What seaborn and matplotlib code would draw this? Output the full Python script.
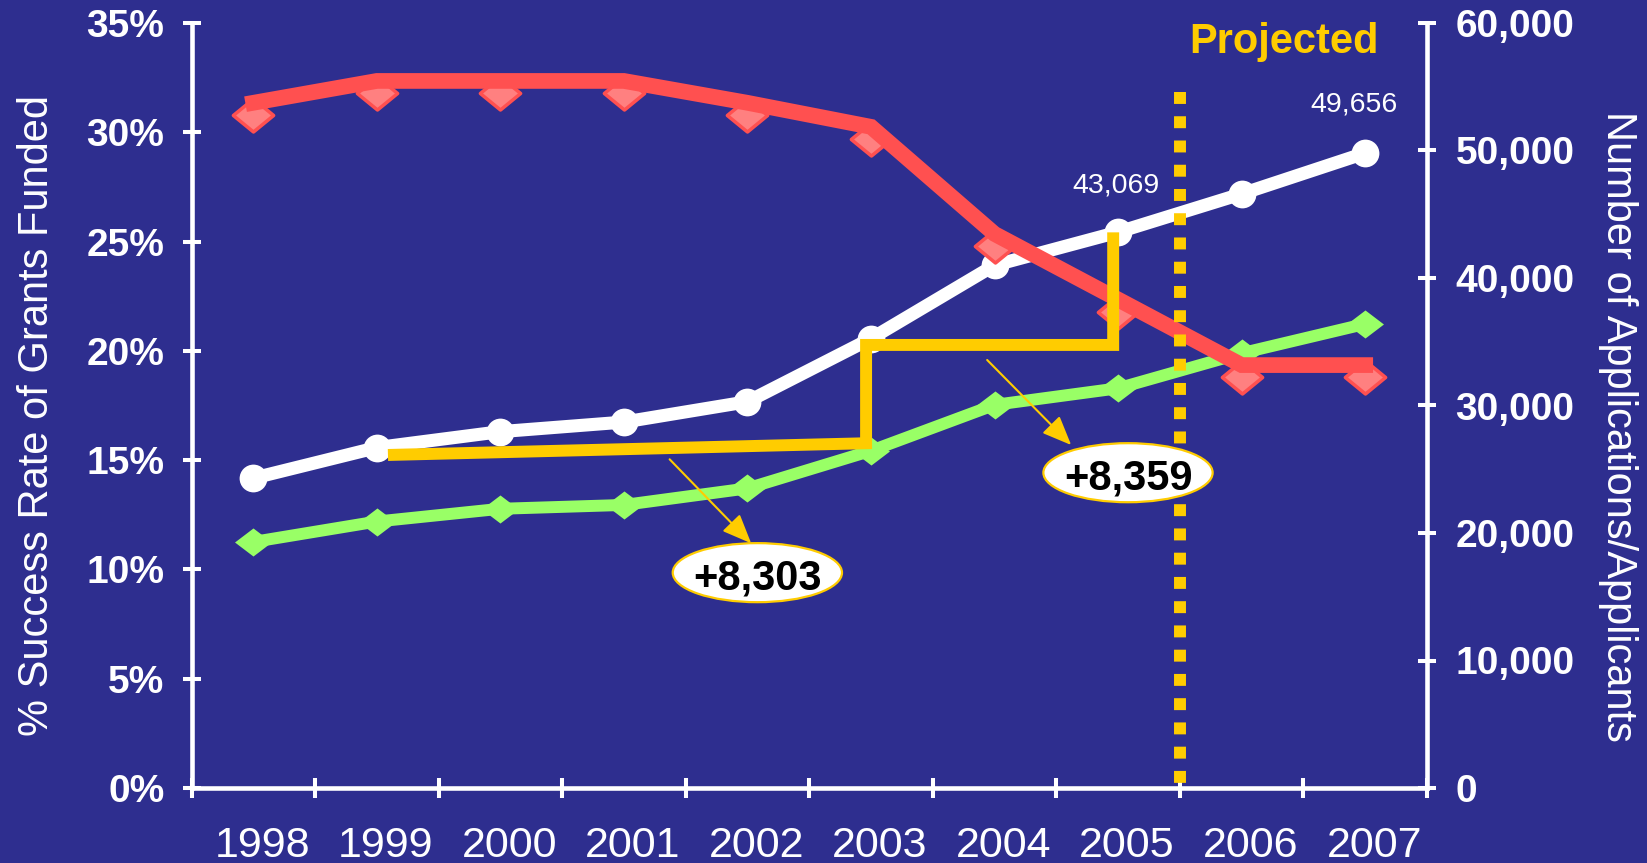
import numpy as np
import pandas as pd
import matplotlib
matplotlib.use("Agg")
import matplotlib.pyplot as plt
import matplotlib.transforms as mtransforms
from matplotlib.path import Path
from matplotlib.patches import Ellipse
from matplotlib.ticker import FixedLocator, FuncFormatter, NullFormatter
import seaborn as sns

# ---------------- data ----------------
years = ["1998", "1999", "2000", "2001", "2002", "2003", "2004", "2005", "2006", "2007"]
success_rate = [30.8, 31.8, 31.8, 31.8, 30.8, 29.7, 24.8, 21.8, 18.8, 18.8]          # % (left axis)
applications = [24300, 26700, 27950, 28700, 30300, 35250, 41000, 43600, 46600, 49800]  # right axis
applicants = [19300, 20900, 21900, 22200, 23500, 26450, 30050, 31350, 34100, 36400]    # right axis
left_ticks = [0, 5, 10, 15, 20, 25, 30, 35]
right_ticks = [0, 10000, 20000, 30000, 40000, 50000, 60000]
point_labels = {"2005": "43,069", "2007": "49,656"}
increase_labels = ["+8,303", "+8,359"]
increase_centers_x = [4.08, 7.08]
increase_centers_y = [16890, 24730]
arrow_tails_x = [3.37, 5.94]
arrow_tails_y = [25780, 33570]
arrow_tips_x = [4.03, 6.62]
arrow_tips_y = [19190, 26900]
step_x = [1.09, 4.96, 4.96, 6.96, 6.96]
step_y = [26120, 27040, 34750, 34750, 43580]
projected_boundary = 7.5
projected_top = 54600
projected_label = "Projected"

df = pd.DataFrame({
    "pos": np.arange(len(years)),
    "year": years,
    "rate": success_rate,
    "applications": applications,
    "applicants": applicants,
})

# ---------------- style ----------------
BG = "#2E2E8F"
GOLD = "#FFCC00"
RED = "#FF5050"
PINK = "#FF8080"
GREEN = "#99FF66"
plt.rcParams["font.family"] = ["Liberation Sans", "DejaVu Sans"]

fig = plt.figure(figsize=(16.47, 8.63), dpi=100, facecolor=BG)
rect = [191.5 / 1647, 1 - 788 / 863, (1427 - 191.5) / 1647, (788 - 23) / 863]
ax = fig.add_axes(rect)
ax2 = ax.twinx()
ax3 = ax.twinx()
ax2.set_zorder(1)
ax.set_zorder(2)
ax3.set_zorder(3)
for a in (ax, ax2, ax3):
    a.patch.set_visible(False)
    for s in a.spines.values():
        s.set_visible(False)

# wide diamond markers
red_diamond = Path([(-1, 0), (0, 0.82), (1, 0), (0, -0.82), (-1, 0)],
                   [Path.MOVETO, Path.LINETO, Path.LINETO, Path.LINETO, Path.CLOSEPOLY])
green_diamond = Path([(-1, 0), (0, 0.76), (1, 0), (0, -0.76), (-1, 0)],
                     [Path.MOVETO, Path.LINETO, Path.LINETO, Path.LINETO, Path.CLOSEPOLY])

# ---------------- right-axis series ----------------
sns.lineplot(data=df, x="pos", y="applicants", ax=ax2, color=GREEN, lw=8.6,
             marker=green_diamond, markersize=26.6, markeredgewidth=0,
             markerfacecolor=GREEN, legend=False)
sns.lineplot(data=df, x="pos", y="applications", ax=ax2, color="white", lw=9.4,
             marker="o", markersize=20, markeredgewidth=0,
             markerfacecolor="white", legend=False)

# ---------------- left-axis series ----------------
sns.lineplot(data=df, x="pos", y="rate", ax=ax, color=RED, linestyle="none",
             marker=red_diamond, markersize=29, markerfacecolor=PINK,
             markeredgecolor=RED, markeredgewidth=2.5, legend=False)
sns.lineplot(data=df, x="pos", y="rate", ax=ax, color=RED, lw=11.3, legend=False,
             solid_joinstyle="miter")
ax.lines[-1].set_transform(mtransforms.offset_copy(ax.transData, fig=fig, x=0, y=12, units="dots"))

# ---------------- limits ----------------
for a in (ax, ax2, ax3):
    a.set_xlim(-0.5, 9.5)
ax.set_ylim(0, 35)
ax2.set_ylim(0, 60000)
ax3.set_ylim(0, 60000)

# ---------------- axes styling ----------------
for key in ("left", "bottom"):
    ax.spines[key].set_visible(True)
    ax.spines[key].set_color("white")
    ax.spines[key].set_linewidth(3.3)
ax2.spines["right"].set_visible(True)
ax2.spines["right"].set_color("white")
ax2.spines["right"].set_linewidth(3.3)

ax.yaxis.set_major_locator(FixedLocator(left_ticks))
ax.yaxis.set_major_formatter(FuncFormatter(lambda v, p: f"{v:.0f}%"))
ax.tick_params(axis="y", direction="inout", length=13, width=2.9, color="white",
               labelcolor="white", labelsize=28, pad=13)
for lbl in ax.get_yticklabels():
    lbl.set_fontweight("bold")

ax2.yaxis.set_major_locator(FixedLocator(right_ticks))
ax2.yaxis.set_major_formatter(FuncFormatter(lambda v, p: f"{v:,.0f}"))
ax2.tick_params(axis="y", direction="inout", length=13, width=2.9, color="white",
                labelcolor="white", labelsize=28, pad=14)
for lbl in ax2.get_yticklabels():
    lbl.set_fontweight("bold")
ax3.yaxis.set_visible(False)

ax.xaxis.set_major_locator(FixedLocator(np.arange(-0.5, len(years), 1.0)))
ax.xaxis.set_major_formatter(NullFormatter())
ax.xaxis.set_minor_locator(FixedLocator(df["pos"].values))
ax.xaxis.set_minor_formatter(FuncFormatter(lambda v, p: years[int(round(v))]))
ax.tick_params(axis="x", which="major", direction="inout", length=14.4, width=2.9, color="white")
ax.tick_params(axis="x", which="minor", length=0, labelcolor="white", labelsize=31, pad=27)
ax.set_xlabel("")
ax.set_ylabel("")
ax2.set_ylabel("")
shift = mtransforms.ScaledTranslation(9 / 100, 0, fig.dpi_scale_trans)
for lbl in ax.xaxis.get_minorticklabels():
    lbl.set_transform(lbl.get_transform() + shift)

# axis titles
fig.text(37 / 1647, 1 - 415 / 863, "% Success Rate of Grants Funded", rotation=90,
         ha="center", va="center", color="white", fontsize=30)
fig.text(1618 / 1647, 1 - 426 / 863, "Number of Applications/Applicants", rotation=270,
         ha="center", va="center", color="white", fontsize=30)

# ---------------- overlay: step path, projection line, callouts ----------------
ax3.plot(step_x, step_y, color=GOLD, lw=8.6, solid_joinstyle="miter", solid_capstyle="butt")
ax3.plot([projected_boundary, projected_boundary], [projected_top, 0], color=GOLD,
         lw=8.6, dashes=(1, 1.03), dash_capstyle="butt")
ax3.text(8.34, 57650, projected_label, ha="center", va="baseline", color=GOLD,
         fontsize=30, fontweight="bold")

for i in range(2):
    ax3.annotate("", xy=(arrow_tips_x[i], arrow_tips_y[i]),
                 xytext=(arrow_tails_x[i], arrow_tails_y[i]),
                 arrowprops=dict(arrowstyle="-|>,head_length=0.6,head_width=0.25",
                                 color=GOLD, lw=1.5, mutation_scale=30,
                                 shrinkA=0, shrinkB=0))
    ax3.add_patch(Ellipse((increase_centers_x[i], increase_centers_y[i]), width=1.37,
                          height=4630, facecolor="white", edgecolor=GOLD, lw=1.6, zorder=5))
    ax3.annotate(increase_labels[i], xy=(increase_centers_x[i], increase_centers_y[i]),
                 xytext=(0, -12), textcoords="offset points", ha="center",
                 va="baseline", fontsize=30, fontweight="bold", color="black", zorder=6)

label_offsets = {"2005": (-1.4, 28.8), "2007": (-8, 30.2)}
for yr, txt in point_labels.items():
    i = years.index(yr)
    ax2.annotate(txt, xy=(i, applications[i]), xytext=label_offsets[yr],
                 textcoords="offset points", ha="center", va="baseline",
                 color="white", fontsize=20.5)

fig.savefig("out.png", dpi=100, facecolor=BG)
